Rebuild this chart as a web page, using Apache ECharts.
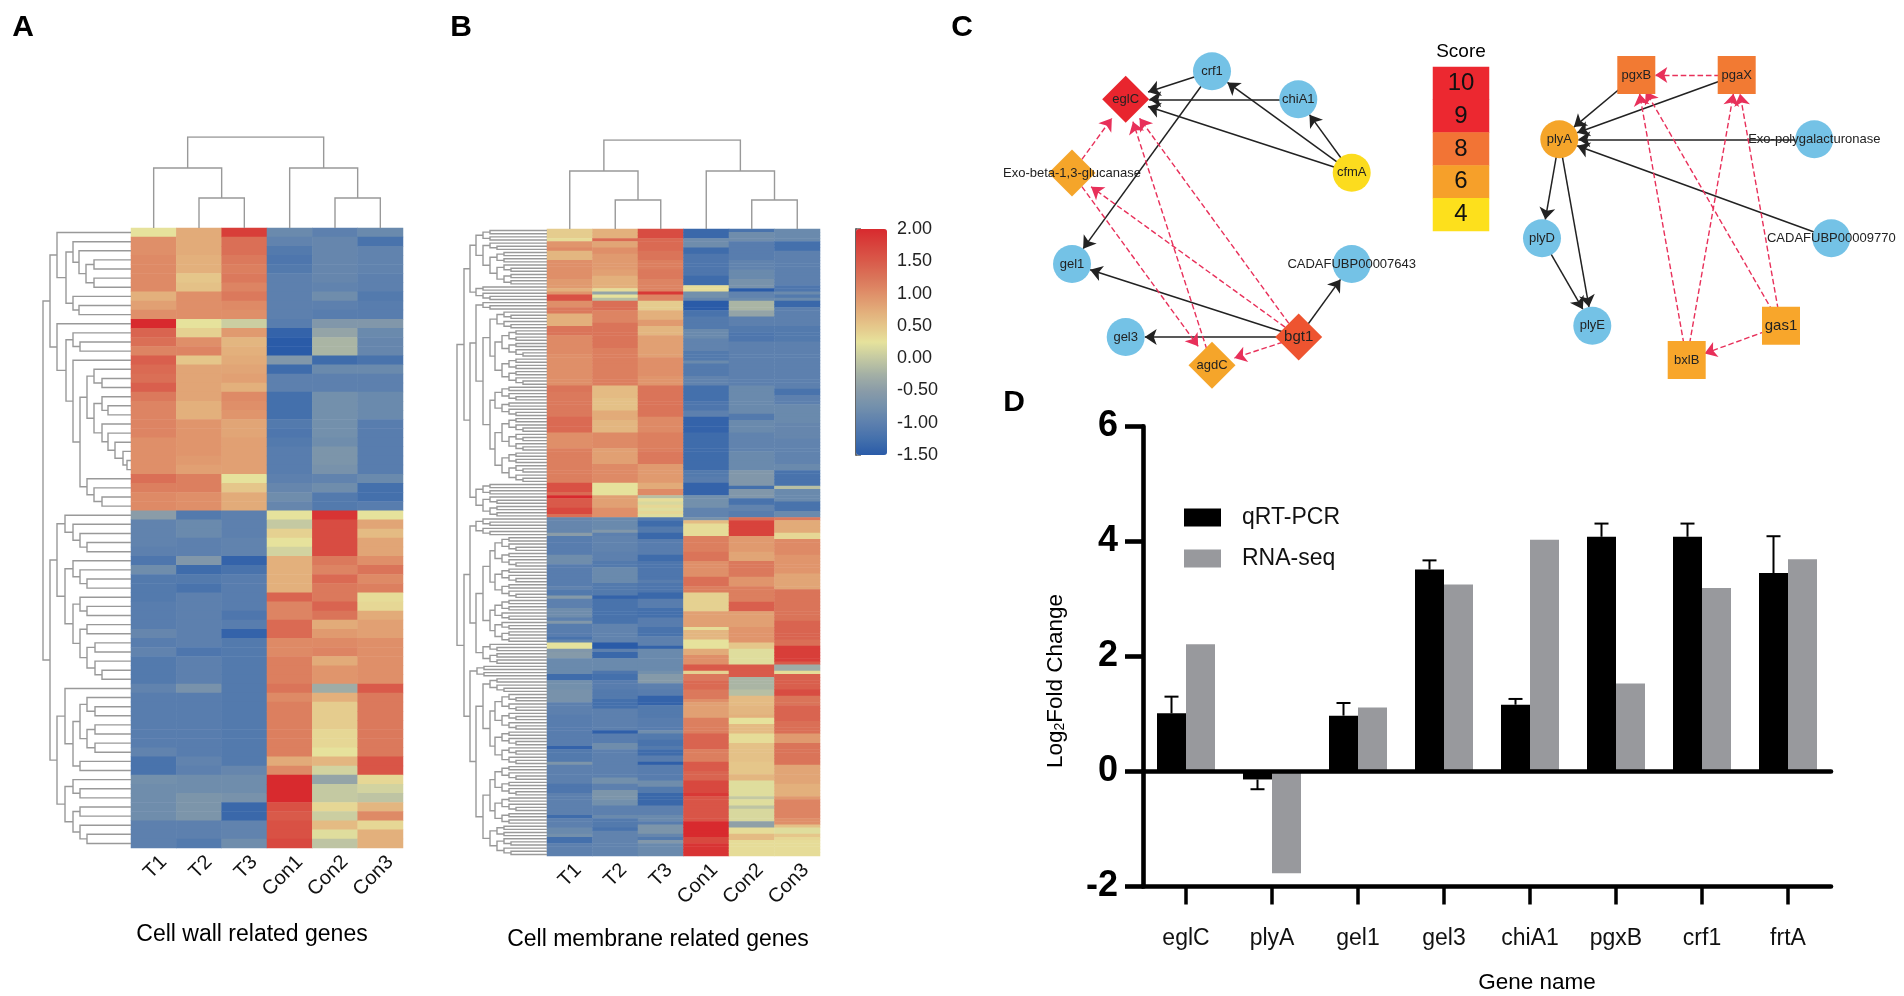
<!DOCTYPE html>
<html><head><meta charset="utf-8">
<style>html,body{margin:0;background:#fff}#c{width:1904px;height:996px}</style>
<script src="https://cdn.jsdelivr.net/npm/echarts@6/dist/echarts.min.js"></script>
</head><body><div id="c"></div>
<script>
// ---------- heatmap data: each entry is a value, or [value, repeat count], top row first
const sampleNames = ['T1','T2','T3','Con1','Con2','Con3'];
const wall_T1 = [.25,[1,2],[1.05,4],.7,.85,1,2,1.4,1.3,1.1,1.45,1.35,1.3,1.45,1.2,[1.1,4],[1,4],1.3,1.15,[1.05,2],
  -.5,[-.95,3],-1,-1.15,-.8,[-1.1,3],[-1.05,3],-.9,-1.05,-.95,[-1.1,3],-.95,[-1.05,6],-.95,[-1.2,2],-.75,[-.8,4],[-1,3]];
const wall_T2 = [[.75,3],[.7,2],.5,.55,[1,3],.25,.4,1,1.1,.5,[.8,4],[.7,2],[.95,4],.9,.85,[1.15,2],[1,2],
  -1.1,[-.85,2],[-1,2],-.6,-1.3,-1.1,-1.2,-1,[-1,5],-1.15,[-1,3],-.7,[-1.05,7],-.95,-1,[-.8,2],[-.65,3],[-1,2],-1.1];
const wall_T3 = [1.8,[1.3,2],1.2,1.15,1.2,1.1,1.2,1.05,1,.05,.9,.65,.7,.75,.8,.85,.7,1.05,1,.95,[.8,2],[.85,4],.25,.5,[.75,2],
  [-1,3],[-.95,2],-1.4,-1.2,[-1.05,4],-1.15,-1.05,-1.4,[-1.1,14],-.9,[-.8,2],-.7,[-1.35,2],[-.95,2],-.8];
const wall_Con1 = [-.85,-.95,-1.1,-1.15,-1.1,[-1,5],-1.05,-1.4,[-1.55,2],-.6,-1.3,[-1,2],[-1.25,3],-1.1,-1.15,-1.1,[-1.05,3],-1,-.9,-.8,-.9,
  .25,0,.4,.25,.1,[.7,4],1.4,[1.1,2],[1.35,2],[1.05,2],[1.15,3],1.25,1.05,[1.15,6],.75,1.05,[2,3],1.6,1.5,[1.6,2],1.7];
const wall_Con2 = [-1,[-.9,5],-.95,-.8,-1,-1.05,-.6,-.4,[-.2,2],-1.3,-.85,[-1,2],[-.75,5],-.8,[-.65,2],-.7,-.95,-.8,[-1.1,2],
  1.9,[1.65,4],1.2,1.1,1.35,[1.2,2],1.4,1.25,.75,.9,1.05,1.1,.75,[.95,2],-.3,.7,[.45,3],[.35,2],.25,.65,.1,-.4,[0,2],.35,.05,.6,.2,-.05];
const wall_Con3 = [-.85,-1.2,[-.95,3],[-1,2],-1.1,[-1.05,2],-.6,-.85,[-.9,2],-1.2,-.85,[-1,2],[-.85,3],[-1.05,6],-.85,[-1.25,2],-1.05,
  .25,.8,.6,[.8,2],1,1.25,1.05,1.15,.3,.35,.75,[.85,2],[1,5],1.5,[1.2,7],[1.55,2],.35,.1,-.05,.65,1.05,.35,[.7,2]];

const memb_T1 = [[.45,3],.3,[.95,2],1.05,[.65,3],[1,6],[.9,3],.7,.95,[1.6,2],[1,2],[1.2,2],[.7,4],[1.25,3],[1.05,6],[1,10],[1.25,2],[1.2,8],[1.35,5],[1,5],[1.15,11],[1.6,3],1.35,2,[1.5,3],[1.7,2],1.3,
  [-.9,5],-.5,[-1.05,6],[-.8,3],[-1.05,7],-.95,[-1.1,2],-.55,[-1,3],[-.8,3],-1,-.6,[-1.05,4],-1.2,-.95,[.25,2],-.6,[-.55,2],[-.85,5],[-1.3,2],[-.75,3],
  [-.7,4],[-1,4],[-1.05,10],-1.4,[-1.1,4],-.65,[-1,6],[-1.15,3],[-1,7],-1.3,[-1,3],[-.85,2],-.75,[-1.25,2],[-1,4]];
const memb_T2 = [[.7,3],1.35,[.8,2],[1,2],[.9,5],[.85,2],[.7,4],.3,-.4,.25,-.1,[1.3,3],[1.1,4],[1.25,8],[1.15,9],[1.15,3],[.6,4],[.55,4],[.75,3],[.65,4],[1.05,5],[.85,5],[1.05,6],[.25,4],[.85,4],[1,3],
  [-.85,4],-.6,-1,[-.95,5],[-1,3],[-1.1,2],[-.85,5],[-1.1,4],-1.4,[-1.2,8],[-.95,6],[-1.5,2],-1,[-1.35,2],[-.85,4],-1.15,[-1.25,2],[-1.05,3],
  [-1.1,3],[-1.25,3],[-1,7],-1.45,[-1.05,3],[-.8,2],[-1,9],[-.75,2],[-1,2],[-.65,3],[-.75,2],[-1,3],-.85,[-1.1,3],-1.2,[-.95,8]];
const memb_T3 = [[1.65,3],[1.35,4],[1.25,3],[1.15,3],[1.2,3],[1.1,4],1.85,[1.1,2],[.45,3],[.7,3],[.9,2],[.65,3],[.85,7],[1,6],[.95,3],[1.25,10],[1.05,5],[1.15,6],[1.2,4],[.9,6],[.75,2],[1.05,2],-.1,.3,.15,.35,.2,.35,.2,
  -1.1,[-1.3,2],[-1.1,2],[-1.35,2],[-1.05,5],[-1.3,2],[-1.15,6],-1.05,[-1.15,3],[-1.35,2],[-1.05,3],[-1.25,3],[-1.05,3],[-1.2,3],[-1,3],-1.4,[-.85,6],-.85,-.75,[-.55,3],[-1,2],
  [-1.05,2],[-1.4,3],[-1.1,4],[-1.05,4],-.8,[-1.1,2],[-1.2,2],-1.1,[-1.3,2],[-1.05,2],-1.45,[-1.05,5],[-.8,2],[-1.1,2],[-1.35,4],[-1,3],[-.85,2],-1.05,[-.65,3],-.9,-1.1,-.6,[-.85,4]];
const memb_Con1 = [[-1.35,3],[-.8,3],[-1.3,2],[-1.15,7],[-1.3,3],[.3,2],[-.75,2],-.9,[-1.55,3],[-1.2,2],[-1.1,4],[-.85,3],[-.95,4],[-1.1,3],-.85,[-1.1,4],[-.95,3],[-1.25,5],[-1.15,3],[-1,2],[-1.4,5],[-1.3,12],[-1.1,2],[-1.05,2],[-1.4,4],[-.75,4],[-.95,3],
  -.7,.6,[.3,4],[1.15,5],[1.25,3],[1,5],[1.3,3],[1.15,2],[.4,6],[.85,5],.3,[.65,3],[.25,3],[.75,2],[1,3],[1.5,2],.4,[1.2,2],[1.35,3],
  [1.2,3],1,[.85,5],[1.15,5],[1.4,5],[1.15,4],[1.5,3],[1.4,3],[1.7,4],1.85,[1.55,8],[2.05,5],[1.7,2],[1.9,4]];
const memb_Con2 = [-1.2,[-.8,3],[-1.05,6],[-.95,3],[-.85,3],[-.7,3],-1.5,[-.95,2],-.85,[-.2,3],[-.4,2],[-1,3],[-1.1,2],[-1.15,3],[-1,11],[-1,3],[-.85,9],[-1.1,2],[-.85,4],[-.95,6],[-.85,6],[-.6,5],-1.25,[-.6,3],[-1.2,2],[-.95,2],[-1.05,2],
  1.3,[1.75,5],[.9,5],[.8,3],[1.2,5],[.95,3],[1.15,5],[1.45,3],[.85,5],[.95,5],[.5,2],[.2,5],[1.5,4],[-.2,4],
  [-.1,2],[.6,3],[.65,3],.7,[.25,2],[.6,3],[.3,3],[.55,6],[.5,4],[.65,2],[.2,5],0,[.2,2],-.05,[.15,4],[-.45,2],[.3,2],[.6,2],[.3,5]];
const memb_Con3 = [[-.85,4],[-1.25,3],[-1,11],[-1.15,2],-.85,-1.1,-.85,[-1.35,2],[-1,6],[-1.1,5],[-1,11],[-1,4],[-1.2,2],[-1,3],[-.85,6],[-.9,5],[-.95,8],[-.85,2],[-1.2,5],-.1,[-.85,4],[-1.2,3],[-.85,2],
  1.2,[.75,4],[.35,2],[1.05,5],[.95,6],[.8,5],[1.25,10],[1.4,6],[1.3,2],[1.8,5],1.5,[-.3,2],.3,[1.45,5],
  [1.65,2],[1.25,3],[1.4,5],[1.3,4],[.9,3],[1.25,7],[.8,6],[.7,4],.9,[1.1,6],[1,2],.55,[.2,2],.5,.35,[.3,5]];

// ---------- dendrograms: [branch height, child, child]; 0 = one leaf; n > 1 = small unread group of n leaves
const wallRowTree = [88,
 [81,
  [74,0,[65,[58,0,[52,0,[45,[37,0,0],[37,0,0]]]],[58,0,[52,0,0]]]],
  [74,0,[65,[58,0,[51,0,0]],[58,0,[51,[44,[37,0,[29,0,0]],[37,[29,0,[23,0,0]],[29,0,[23,0,[16,0,[8,0,[4,0,0]]]]]]],[44,0,[37,0,[29,0,0]]]]]]]],
 [81,
  [74,[66,0,[58,0,[51,0,[44,0,0]]]],[66,[58,0,[51,0,[44,0,0]]],[58,[51,0,[44,0,0]],[51,[44,0,0],[44,[36,0,0],[36,0,[29,0,0]]]]]]],
  [74,[66,0,[58,[51,[44,0,[36,0,0]],[44,[36,0,0],[36,0,0]]],[51,0,0]]],[66,[58,0,[51,0,0]],[58,[51,0,0],[51,0,[44,0,0]]]]]]];
const wallColTree = [91,[60,0,[30,0,0]],[60,0,[30,0,0]]];
const membRowTree = [90,
 [83,
  [77,[71,4,[64,3,[57,4,7]]],[71,2,3]],
  [77,[71,3,[64,[57,6,[52,[45,4,5],[45,4,5]]],[57,[52,5,5],[52,[45,5,6],[45,4,6]]]]],[71,4,[64,3,4]]]],
 [83,
  [77,[71,3,3],[71,[64,[57,[52,5,5],[52,5,5]],[57,[52,4,3],[52,3,4]]],[64,3,4]]],
  [77,4,[71,[64,5,[57,[52,6,6],[52,5,6]]],[64,[57,[52,5,5],[52,5,4]],[57,4,6]]]]]];
const membColTree = [89,[58,0,[29,0,0]],[58,0,[29,0,0]]];

const colorStops = ['#2a5ba8','#4470ac','#5d80ae','#7390ac','#8a9ca8','#a4b0a5','#c4c9a2','#e6e29c','#e5c68a','#e2ab79','#df8f69','#da7459','#d95a4a','#d8433c','#d82a2e'];

// ---------- network C
const leftNodes = ['eglC','crf1','chiA1','cfmA','CADAFUBP00007643','bgt1','agdC','gel3','gel1','Exo-beta-1,3-glucanase'];
const leftX = [1125.7,1212,1298.3,1351.7,1351.7,1298.7,1212,1125.7,1072,1072];
const leftY = [99.3,71.3,99.3,172.7,264,337,365.3,337,264,173];
const leftShape = ['diamond','circle','circle','circle','circle','diamond','diamond','circle','circle','diamond'];
const leftFill = ['#e8252e','#74c2e6','#74c2e6','#fcdc1e','#74c2e6','#ee5430','#f5a52a','#74c2e6','#74c2e6','#f5a52a'];
const leftSolid = [['crf1','eglC'],['chiA1','eglC'],['cfmA','eglC'],['cfmA','crf1'],['cfmA','chiA1'],['crf1','gel1'],['bgt1','gel1'],['bgt1','gel3'],['bgt1','CADAFUBP00007643']];
const leftDashed = [['Exo-beta-1,3-glucanase','eglC'],['agdC','eglC'],['bgt1','eglC'],['bgt1','Exo-beta-1,3-glucanase'],['Exo-beta-1,3-glucanase','agdC'],['bgt1','agdC']];
const rightNodes = ['pgxB','pgaX','plyA','Exo-polygalacturonase','CADAFUBP00009770','plyD','plyE','gas1','bxlB'];
const rightX = [1636.3,1736.7,1559.3,1814.3,1831.3,1542,1592.3,1781,1686.7];
const rightY = [75,75,139.3,139.3,238.3,238.3,325.7,325.7,360];
const rightShape = ['rect','rect','circle','circle','circle','circle','circle','rect','rect'];
const rightFill = ['#f27a33','#f27a33','#f5a52a','#74c2e6','#74c2e6','#74c2e6','#74c2e6','#f8a62b','#f8a62b'];
const rightSolid = [['pgxB','plyA'],['pgaX','plyA'],['Exo-polygalacturonase','plyA'],['CADAFUBP00009770','plyA'],['plyA','plyD'],['plyA','plyE'],['plyD','plyE']];
const rightDashed = [['pgaX','pgxB'],['bxlB','pgxB'],['bxlB','pgaX'],['gas1','pgxB'],['gas1','pgaX'],['gas1','bxlB']];
const scoreLabels = ['10','9','8','6','4'];
const scoreColors = ['#ec2830','#ec2830','#f27435','#f6a02a','#fde01c'];

// ---------- bars D
const geneNames = ['eglC','plyA','gel1','gel3','chiA1','pgxB','crf1','frtA'];
const qrtValues = [1.01,-0.14,0.97,3.51,1.16,4.08,4.08,3.45];
const qrtErrorEnd = [1.30,-0.31,1.19,3.67,1.26,4.31,4.31,4.09];
const rnaValues = [2.21,-1.77,1.11,3.25,4.03,1.53,3.19,3.69];

const FONT = '"Liberation Sans", Arial, sans-serif';
const expand = a => a.flatMap(v => Array.isArray(v) ? Array(v[1]).fill(v[0]) : [v]);
const cells = cols => cols.flatMap((c,i) => expand(c).map((v,r) => [i,r,v]));
const wallCells = cells([wall_T1,wall_T2,wall_T3,wall_Con1,wall_Con2,wall_Con3]);
const membCells = cells([memb_T1,memb_T2,memb_T3,memb_Con1,memb_Con2,memb_Con3]);
const wallRows = expand(wall_T1).length, membRows = expand(memb_T1).length;

function treeLines(tree, vertical){
  let leaf = 0; const out = [];
  const pt = (h,p) => vertical ? [p,h] : [h,p];
  (function walk(n, parent){
    if (n === 0 || n === 1) return {pos: leaf++ + .5, h: 0};
    const node = typeof n === 'number' ? [Math.max(parent-7,14), Math.floor(n/2), Math.ceil(n/2)] : n;
    const a = walk(node[1], node[0]), b = walk(node[2], node[0]);
    out.push({coords:[pt(a.h,a.pos),pt(node[0],a.pos),pt(node[0],b.pos),pt(b.h,b.pos)]});
    return {pos:(a.pos+b.pos)/2, h:node[0]};
  })(tree, tree[0]);
  return out;
}
const hide = {show:false};
const grids = [
 {left:131,top:228,width:272,height:620},   // 0 heat A
 {left:43,top:228,width:88,height:620},     // 1 row tree A
 {left:131,top:137,width:272,height:91},    // 2 col tree A
 {left:547,top:229,width:273,height:627},   // 3 heat B
 {left:457,top:229,width:90,height:627},    // 4 row tree B
 {left:547,top:140,width:273,height:89},    // 5 col tree B
 {left:856,top:229,width:31,height:226},    // 6 colour scale
 {left:0,top:0,width:1904,height:996},      // 7 networks
 {left:1433,top:67,width:56,height:164},    // 8 score key
 {left:1143,top:426.4,width:688,height:460},// 9 bars
 {left:141,top:228,width:272,height:620},   // 10 sample labels A (set off from the columns as in the figure)
 {left:555.5,top:229,width:273,height:627}  // 11 sample labels B
];
const sampleAxis = (g,margin) => ({type:'category',gridIndex:g,data:sampleNames,axisLine:hide,axisTick:hide,splitLine:hide,
  axisLabel:{rotate:45,interval:0,fontSize:20,color:'#111',fontFamily:FONT,margin}});
const heatX = g => ({type:'category',gridIndex:g,data:sampleNames,show:false});
const offX = (g,max,inverse) => ({type:'value',gridIndex:g,min:0,max,inverse:!!inverse,show:false});
const offY = (g,max,inverse) => ({type:'value',gridIndex:g,min:0,max,inverse:!!inverse,show:false});
const catY = (g,n) => ({type:'category',gridIndex:g,inverse:true,data:Array.from({length:n},(_,i)=>i),show:false});
const xAxis = [
 heatX(0), offX(1,88,true), offX(2,6),
 heatX(3), offX(4,90,true), offX(5,6),
 offX(6,1), offX(7,1904),
 {type:'category',gridIndex:8,data:['Score'],show:false},
 {type:'category',gridIndex:9,data:geneNames,position:'bottom',z:5,
  axisLine:{onZero:false,lineStyle:{color:'#000',width:4.6}},
  axisTick:{show:true,alignWithLabel:true,length:18,lineStyle:{color:'#000',width:3.5}},
  axisLabel:{interval:0,fontSize:23,color:'#111',fontFamily:FONT,margin:41},splitLine:hide},
 sampleAxis(10,11), sampleAxis(11,11),
 {type:'category',gridIndex:9,data:geneNames,position:'top',z:5,
  axisLine:{onZero:true,lineStyle:{color:'#000',width:4.6}},axisTick:hide,axisLabel:hide,splitLine:hide}
];
const yAxis = [
 catY(0,wallRows), offY(1,wallRows,true), offY(2,91),
 catY(3,membRows), offY(4,membRows,true), offY(5,89),
 {type:'value',gridIndex:6,min:-1.5,max:2,interval:.5,position:'right',
  axisLine:{show:true,lineStyle:{color:'#666',width:2}},axisTick:{show:true,length:5,lineStyle:{color:'#666',width:1.5}},
  axisLabel:{fontSize:18,color:'#222',fontFamily:FONT,margin:10,padding:[4,0,0,0],formatter:v=>v.toFixed(2)},splitLine:hide},
 offY(7,996,true),
 {type:'category',gridIndex:8,inverse:true,data:scoreLabels,show:false},
 {type:'value',gridIndex:9,min:-2,max:6,interval:2,z:5,
  axisLine:{show:true,onZero:false,lineStyle:{color:'#000',width:4.6}},
  axisTick:{show:true,length:18,lineStyle:{color:'#000',width:4.6}},
  axisLabel:{fontSize:36,fontWeight:'bold',color:'#000',fontFamily:FONT,margin:25,padding:[7,0,0,0]},splitLine:hide},
 offY(10,1), offY(11,1)
];
const heat = (g,data) => ({type:'heatmap',xAxisIndex:g,yAxisIndex:g,data,silent:true,progressive:0,emphasis:{disabled:true}});
const tree = (g,data) => ({type:'lines',coordinateSystem:'cartesian2d',xAxisIndex:g,yAxisIndex:g,polyline:true,silent:true,data,
  lineStyle:{color:'#999',width:1.4,opacity:1,curveness:0}});
const net = (names,xs,ys,shapes,fills,solid,dashed) => ({
  type:'graph',layout:'none',coordinateSystem:'cartesian2d',xAxisIndex:7,yAxisIndex:7,silent:true,
  edgeSymbol:['none','arrow'],edgeSymbolSize:[1,12],lineStyle:{opacity:1},
  data:names.map((n,i)=>{
    const big = n==='bgt1'||n==='gas1', s = shapes[i]==='diamond'?47:38;
    return {name:n,value:[xs[i],ys[i]],symbol:shapes[i],symbolSize:s,itemStyle:{color:fills[i]},
      label:{show:true,position:'inside',fontSize:big?15:13,color:'#222',fontFamily:FONT}};
  }),
  links:solid.map(e=>({source:e[0],target:e[1],lineStyle:{color:'#222',width:1.5,type:'solid',opacity:1}}))
    .concat(dashed.map(e=>({source:e[0],target:e[1],lineStyle:{color:'#e8305a',width:1.4,type:'dashed',opacity:1}})))
});
const series = [
 heat(0,wallCells), heat(3,membCells),
 tree(1,treeLines(wallRowTree,false)), tree(2,treeLines(wallColTree,true)),
 tree(4,treeLines(membRowTree,false)), tree(5,treeLines(membColTree,true)),
 net(leftNodes,leftX,leftY,leftShape,leftFill,leftSolid,leftDashed),
 net(rightNodes,rightX,rightY,rightShape,rightFill,rightSolid,rightDashed),
 {type:'heatmap',xAxisIndex:8,yAxisIndex:8,silent:true,emphasis:{disabled:true},
  data:scoreLabels.map((s,i)=>({value:[0,i,+s],itemStyle:{color:scoreColors[i]}})),
  label:{show:true,fontSize:24,color:'#111',fontFamily:FONT,formatter:p=>scoreLabels[p.value[1]]}},
 {name:'qRT-PCR',type:'bar',xAxisIndex:9,yAxisIndex:9,data:qrtValues,barWidth:29,barGap:'0%',itemStyle:{color:'#000'},silent:true},
 {name:'RNA-seq',type:'bar',xAxisIndex:9,yAxisIndex:9,data:rnaValues,barWidth:29,barGap:'0%',itemStyle:{color:'#98999d'},silent:true},
 {type:'custom',xAxisIndex:9,yAxisIndex:9,silent:true,z:4,
  data:geneNames.map((_,i)=>[i,qrtValues[i],qrtErrorEnd[i]]),encode:{x:0,y:[1,2]},
  renderItem:(p,api)=>{
    const a=api.coord([api.value(0),api.value(1)]), b=api.coord([api.value(0),api.value(2)]), x=a[0]-14.5;
    const st={stroke:'#000',lineWidth:2};
    return {type:'group',children:[
      {type:'line',shape:{x1:x,y1:a[1],x2:x,y2:b[1]},style:st},
      {type:'line',shape:{x1:x-7,y1:b[1],x2:x+7,y2:b[1]},style:st}]};
  }}
];
const txt = (text,x,y,font,extra) => Object.assign({type:'text',x,y,silent:true,style:{text,font:font+' '+FONT,fill:'#000',textAlign:'center',textVerticalAlign:'middle'}},extra||{});
const graphic = [
 txt('A',23,28,'bold 30px'), txt('B',461,28,'bold 30px'), txt('C',962,28,'bold 30px'), txt('D',1014,403,'bold 30px'),
 txt('Cell wall related genes',252,935,'23px'), txt('Cell membrane related genes',658,940,'23px'),
 txt('Score',1461,52,'19px'), txt('Gene name',1537,983,'22.5px'),
 {type:'text',x:1056,y:681,rotation:Math.PI/2,silent:true,style:{text:'{a|Log}{s|2}{a|Fold Change}',fill:'#000',textAlign:'center',textVerticalAlign:'middle',
   rich:{a:{font:'22.5px '+FONT,fill:'#000'},s:{font:'14px '+FONT,fill:'#000',verticalAlign:'bottom',padding:[8,0,0,0]}}}}
];
const chart = echarts.init(document.getElementById('c'),null,{renderer:'canvas'});
chart.setOption({
 animation:false,backgroundColor:'#fff',textStyle:{fontFamily:FONT},
 grid:grids,xAxis,yAxis,series,graphic,
 legend:{data:['qRT-PCR','RNA-seq'],orient:'vertical',left:1184,top:506,itemWidth:37,itemHeight:18,itemGap:18,selectedMode:false,padding:0,icon:'rect',
   textStyle:{fontSize:23,color:'#111',fontFamily:FONT,padding:[0,0,0,16]}},
 visualMap:{type:'continuous',seriesIndex:[0,1],min:-1.5,max:2,show:true,calculable:false,hoverLink:false,left:856,top:229,itemWidth:31,itemHeight:226,padding:0,text:null,
   inRange:{color:colorStops}}
});
</script></body></html>
